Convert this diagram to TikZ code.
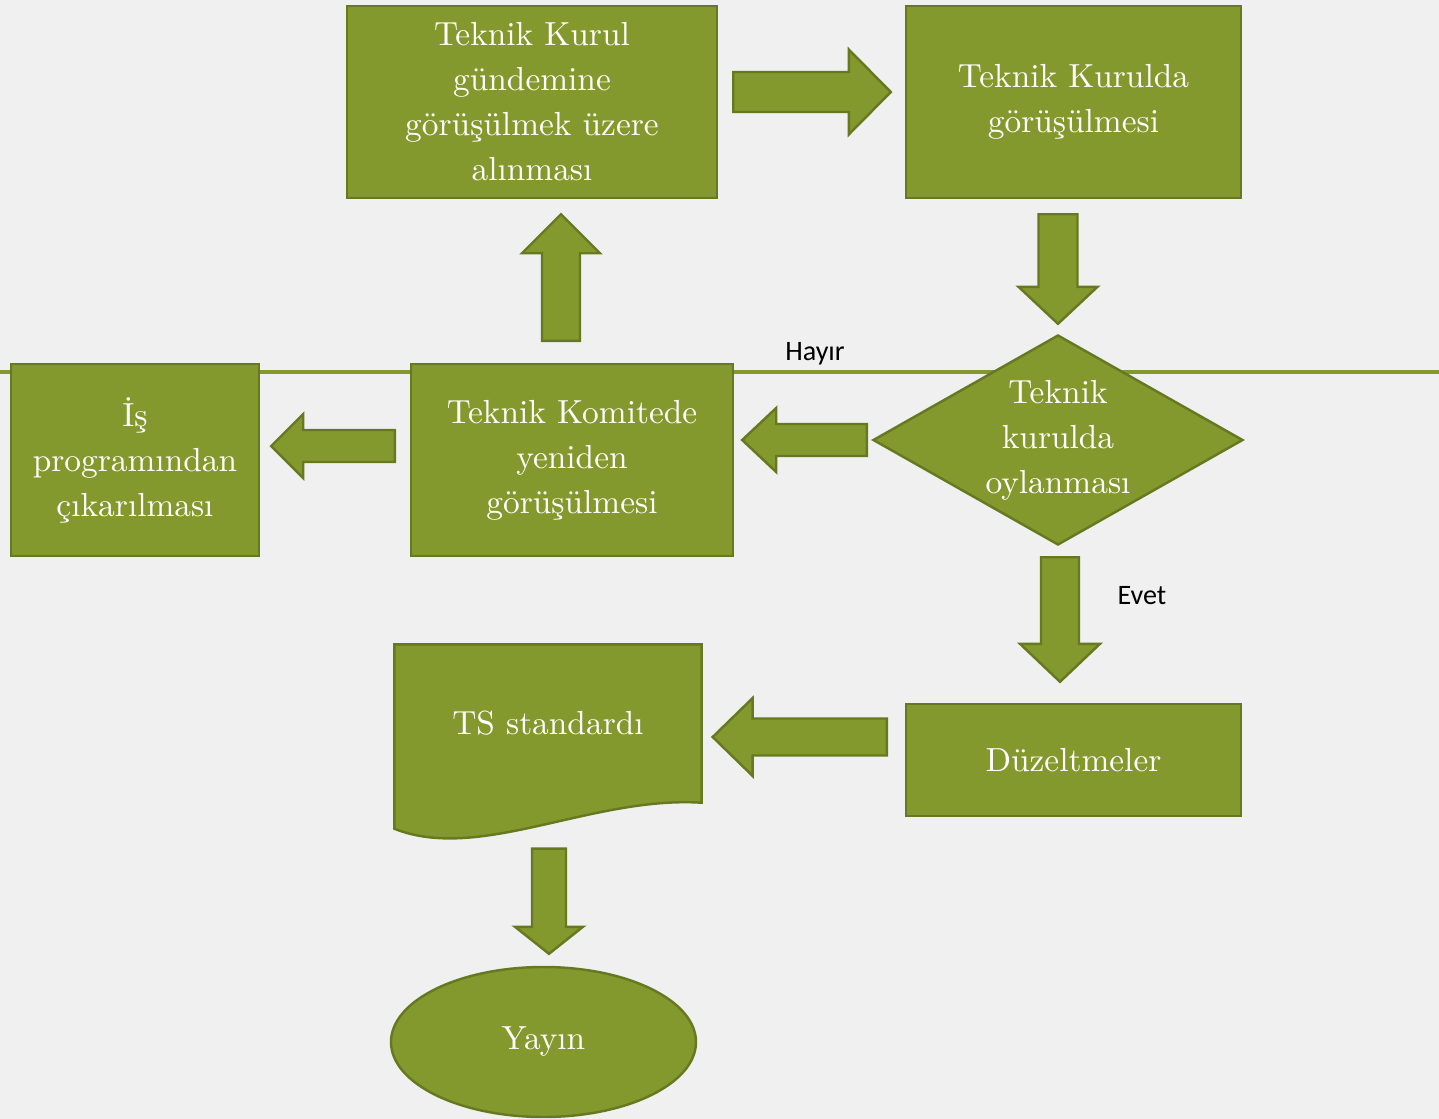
\documentclass[tikz,border=0pt]{standalone}
\usepackage{fontspec}
\newfontfamily\labelfont{Carlito}
\usetikzlibrary{shapes,arrows,calc,backgrounds}
\definecolor{leaf}{RGB}{132,153,45}
\definecolor{leafdark}{RGB}{102,121,32}
\definecolor{paper}{RGB}{240,240,240}
\newcommand{\boxfont}{\fontsize{9.5}{12.8}\selectfont}
\tikzstyle{block} = [rectangle, draw=leafdark, fill=leaf, line width=0.7pt,
    text=white, align=center, font=\boxfont, inner sep=0pt]
\tikzstyle{decision} = [diamond, draw=leafdark, fill=leaf, line width=0.7pt,
    text=white, align=center, font=\boxfont, inner sep=0pt, aspect=1.76]
\tikzstyle{terminal} = [ellipse, draw=leafdark, fill=leaf, line width=0.7pt,
    text=white, font=\boxfont, inner sep=0pt]
\tikzstyle{fat} = [draw=leafdark, fill=leaf, line width=0.7pt, line join=miter]
\tikzstyle{tag} = [font=\labelfont\fontsize{8}{9}\selectfont]
\newcommand{\blockarrow}[5]{%
  \coordinate (fa-s) at (#1);
  \coordinate (fa-e) at (#2);
  \coordinate (fa-h) at ($(fa-e)!#5!(fa-s)$);
  \draw [fat] ($(fa-s)!#3!90:(fa-e)$) -- ($(fa-h)!#3!-90:(fa-s)$) -- ($(fa-h)!#4!-90:(fa-s)$)
    -- (fa-e) -- ($(fa-h)!#4!90:(fa-s)$) -- ($(fa-h)!#3!90:(fa-s)$) -- ($(fa-s)!#3!-90:(fa-e)$) -- cycle;}

\begin{document}
\begin{tikzpicture}
\useasboundingbox (0,0) rectangle (14.39,-11.19);
\begin{pgfonlayer}{background}
\fill [paper] (0,0) rectangle (14.39,-11.19);
\draw [leaf, line width=0.9pt] (0,-3.72) -- (14.39,-3.72);
\end{pgfonlayer}

\node [block, minimum width=3.70cm, minimum height=1.92cm] at (5.32,-1.02) (agenda) {Teknik Kurul\\gündemine\\görüşülmek üzere\\alınması};
\node [block, minimum width=3.35cm, minimum height=1.92cm] at (10.735,-1.02) (kurul) {Teknik Kurulda\\görüşülmesi};
\node [decision, minimum width=3.70cm, minimum height=2.10cm] at (10.58,-4.40) (vote) {Teknik\\kurulda\\oylanması};
\node [block, minimum width=3.22cm, minimum height=1.92cm] at (5.72,-4.60) (komite) {Teknik Komitede\\yeniden\\görüşülmesi};
\node [block, minimum width=2.48cm, minimum height=1.92cm] at (1.35,-4.60) (remove) {İş\\programından\\çıkarılması};
\node [block, minimum width=3.35cm, minimum height=1.12cm] at (10.735,-7.60) (fix) {Düzeltmeler};
\node [minimum width=3.06cm, minimum height=1.57cm, text=white, font=\boxfont, inner sep=0pt] at (5.48,-7.235) (std) {TS standardı};
\node [terminal, minimum width=3.05cm, minimum height=1.50cm] at (5.435,-10.42) (pub) {Yayın};

\begin{pgfonlayer}{background}
\draw [fat] (std.north west) -- (std.north east) -- (std.south east)
  .. controls ([xshift=-1.1cm,yshift=0.07cm]std.south east) and ([xshift=0.85cm,yshift=-0.6cm]std.south west)
  .. ([yshift=-0.26cm]std.south west) -- cycle;
\end{pgfonlayer}

\node [tag] at (8.15,-3.54) (no) {Hayır};
\node [tag] at (11.42,-5.96) (yes) {Evet};

\blockarrow{[xshift=0.15cm,yshift=0.1cm]agenda.east}{[xshift=-0.14cm,yshift=0.1cm]kurul.west}{0.2cm}{0.425cm}{0.42cm}
\blockarrow{[xshift=-0.155cm,yshift=-0.15cm]kurul.south}{[yshift=0.1cm]vote.north}{0.195cm}{0.395cm}{0.37cm}
\blockarrow{[xshift=-0.05cm]vote.west}{[xshift=0.08cm,yshift=0.2cm]komite.east}{0.16cm}{0.32cm}{0.34cm}
\blockarrow{[xshift=-0.11cm,yshift=0.22cm]komite.north}{[xshift=0.29cm,yshift=-0.15cm]agenda.south}{0.19cm}{0.39cm}{0.39cm}
\blockarrow{[xshift=-0.15cm,yshift=0.14cm]komite.west}{[xshift=0.11cm,yshift=0.14cm]remove.east}{0.16cm}{0.32cm}{0.32cm}
\blockarrow{[xshift=0.02cm,yshift=-0.11cm]vote.south}{[xshift=-0.135cm,yshift=0.21cm]fix.north}{0.19cm}{0.40cm}{0.38cm}
\blockarrow{[xshift=-0.18cm,yshift=0.23cm]fix.west}{[xshift=0.11cm,yshift=-0.135cm]std.east}{0.185cm}{0.39cm}{0.40cm}
\blockarrow{[xshift=0.01cm,yshift=-0.46cm]std.south}{[xshift=0.055cm,yshift=0.12cm]pub.north}{0.17cm}{0.34cm}{0.27cm}
\end{tikzpicture}
\end{document}
